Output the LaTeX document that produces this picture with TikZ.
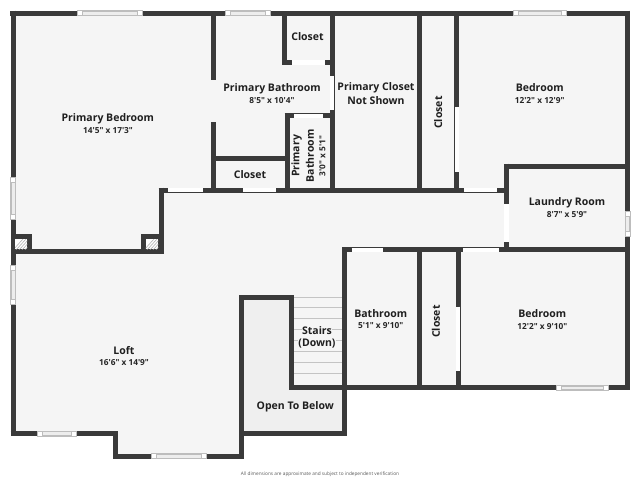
\documentclass[tikz,border=0pt]{standalone}
\usepackage{fontspec}
\newfontfamily\planfont{Open Sans}
\definecolor{wallc}{HTML}{3A3A3A}
\definecolor{floorc}{HTML}{F5F5F5}
\definecolor{voidc}{HTML}{EFEFEF}
\definecolor{glassc}{HTML}{EDEDED}
\definecolor{framec}{HTML}{BDBDBD}
\definecolor{stepc}{HTML}{C4C4C4}
\tikzset{
  wall/.style={draw=wallc,line width=5pt,line cap=butt},
  doorway/.style={draw=white,line width=4.6pt,line cap=butt},
  treadline/.style={draw=stepc,line width=0.8pt},
  roomname/.style={font=\planfont\bfseries\fontsize{10.5}{12}\selectfont,text=black!88,inner sep=0.5pt,yshift=-0.9pt},
  roomsize/.style={font=\planfont\bfseries\fontsize{8.3}{10}\selectfont,text=black!85,inner sep=0.5pt,yshift=-0.9pt},
  foot/.style={font=\planfont\fontsize{4.75}{6}\selectfont,text=black!65,inner sep=0pt},
}
\newcommand{\winH}[3]{% x1 x2 y
  \fill[white] (#1,#3-2.6) rectangle (#2,#3+2.6);
  \draw[framec,line width=0.5pt] (#1,#3-2.6) rectangle (#2,#3+2.6);
  \draw[framec,line width=0.5pt,fill=glassc] (#1+5,#3-1.8) rectangle (#2-5,#3+1.8);
}
\newcommand{\winV}[3]{% x y1 y2
  \fill[white] (#1-2.6,#2) rectangle (#1+2.6,#3);
  \draw[framec,line width=0.5pt] (#1-2.6,#2) rectangle (#1+2.6,#3);
  \draw[framec,line width=0.5pt,fill=glassc] (#1-1.8,#2+5) rectangle (#1+1.8,#3-5);
}
\begin{document}
\begin{tikzpicture}[x=1pt,y=-1pt]
\useasboundingbox (0,0) rectangle (640,479);
\fill[white] (0,0) rectangle (640,479);
% floor
\fill[floorc] (13,13) -- (627.5,13) -- (627.5,388) -- (344,388) -- (344,433.5) -- (241.5,433.5) -- (241.5,456) -- (116,456) -- (116,433.5) -- (13,433.5) -- cycle;
\fill[voidc] (241.5,297.5) -- (291.5,297.5) -- (291.5,388) -- (344,388) -- (344,433.5) -- (241.5,433.5) -- cycle;
% stair treads
\foreach \ty in {297,307.3,318.3,329.3,340,351,362.3,373.3}
  \draw[treadline] (293,\ty) -- (342,\ty);
% outer walls
\draw[wall] (10.4,13) -- (630,13);
\draw[wall] (13,10.6) -- (13,436);
\draw[wall] (627.5,10.6) -- (627.5,390.4);
\draw[wall] (10.6,433.5) -- (118.2,433.5);
\draw[wall] (115.7,431) -- (115.7,458.4);
\draw[wall] (113.3,456) -- (244,456);
\draw[wall] (241.5,295) -- (241.5,458.4);
\draw[wall] (239,297.5) -- (293.8,297.5);
\draw[wall] (291.3,295) -- (291.3,390);
\draw[wall] (289,387.7) -- (630,387.7);
\draw[wall] (241.5,433.5) -- (346.8,433.5);
\draw[wall] (344.3,247.2) -- (344.3,436);
\draw[wall] (342,249.8) -- (630,249.8);
% primary bedroom lower wall and pillars
\draw[wall] (13,251.5) -- (163.4,251.5);
\draw[wall] (161,187.6) -- (161,254);
\draw[wall] (158.6,190) -- (506.5,190);
\fill[wallc] (10.6,234) rectangle (32.3,254);
\fill[wallc] (141,234) rectangle (163.4,254);
\fill[white] (15,239) rectangle (27.3,249);
\fill[white] (145.7,239) rectangle (158.3,249);
\begin{scope}
\clip (15,239) rectangle (27.3,249);
\foreach \k in {0,3,...,27} \draw[gray!70,line width=0.5pt] (12+\k,251) -- (12+\k+12,238);
\end{scope}
\begin{scope}
\clip (145.7,239) rectangle (158.3,249);
\foreach \k in {0,3,...,27} \draw[gray!70,line width=0.5pt] (143+\k,251) -- (143+\k+12,238);
\end{scope}
% interior walls upper
\draw[wall] (213.3,13) -- (213.3,80);
\draw[wall] (213.3,122) -- (213.3,190);
\draw[wall] (213,158) -- (289,158);
\draw[wall] (287,113.3) -- (287,190);
\draw[wall] (284.6,115.8) -- (332,115.8);
\draw[wall] (284.8,13) -- (284.8,65);
\draw[wall] (282.4,62.5) -- (332,62.5);
\draw[wall] (332,13) -- (332,190);
\draw[wall] (419,13) -- (419,190);
\draw[wall] (456.8,13) -- (456.8,190);
\draw[wall] (506.5,163.6) -- (506.5,247);
\draw[wall] (504.1,166) -- (630,166);
% interior walls lower
\draw[wall] (419,250) -- (419,388);
\draw[wall] (458,250) -- (458,388);
\draw[wall] (506.5,242) -- (506.5,250);
% doorways
\draw[doorway] (168,190) -- (203,190);
\draw[doorway] (243,190) -- (276,190);
\draw[doorway] (464,190) -- (497,190);
\draw[doorway] (291.7,62.5) -- (325,62.5);
\draw[doorway] (294,115.8) -- (323,115.8);
\draw[doorway] (332,76) -- (332,110);
\draw[doorway] (456.8,107.3) -- (456.8,172);
\draw[doorway] (506.5,204) -- (506.5,242);
\draw[doorway] (351.7,249.8) -- (382.7,249.8);
\draw[doorway] (463,249.8) -- (499,249.8);
\draw[doorway] (458,306.7) -- (458,371.3);
% windows
\winH{77}{142.7}{13}
\winH{225.7}{270.7}{13}
\winH{513.3}{566}{13}
\winH{37.3}{76.3}{433.5}
\winH{151.3}{206}{456}
\winH{556.7}{608.7}{387.7}
\winV{13}{177}{219}
\winV{13}{265}{304}
\winV{627.5}{211.7}{236.7}
% labels
\node[roomname] (bedp) at (107.8,118) {Primary Bedroom};
\node[roomsize] (bedpd) at (108,130) {14'5" x 17'3"};
\node[roomname] (bathp) at (272,88) {Primary Bathroom};
\node[roomsize] (bathpd) at (272,99.7) {8'5" x 10'4"};
\node[roomname] (clo1) at (307.5,36) {Closet};
\node[roomname] (pc1) at (376,86.5) {Primary Closet};
\node[roomname] (pc2) at (376,100) {Not Shown};
\node[roomname] (bed1) at (539.7,87) {Bedroom};
\node[roomsize] (bed1d) at (539.7,99.5) {12'2" x 12'9"};
\node[roomname,rotate=90] (clo2) at (438.3,111.7) {Closet};
\node[roomname] (lau) at (567,202) {Laundry Room};
\node[roomsize] (laud) at (567,214) {8'7" x 5'9"};
\node[roomname] (clo3) at (250,174) {Closet};
\node[roomname,rotate=90] (pb1) at (296.7,155) {Primary};
\node[roomname,rotate=90] (pb2) at (310,155) {Bathroom};
\node[roomsize,rotate=90] (pb3) at (322.3,155) {3'0" x 5'1"};
\node[roomname] (loft) at (124,349.7) {Loft};
\node[roomsize] (loftd) at (124,362) {16'6" x 14'9"};
\node[roomname,fill=floorc] (st1) at (317,329.3) {Stairs};
\node[roomname,fill=floorc] (st2) at (317,343) {(Down)};
\node[roomname] (otb) at (295.3,406.3) {Open To Below};
\node[roomname] (bath) at (380.7,312.3) {Bathroom};
\node[roomsize] (bathd) at (380.7,324.7) {5'1" x 9'10"};
\node[roomname,rotate=90] (clo4) at (436,320.7) {Closet};
\node[roomname] (bed2) at (542.3,313) {Bedroom};
\node[roomsize] (bed2d) at (542.3,325.3) {12'2" x 9'10"};
\node[foot] (note) at (320,474) {All dimensions are approximate and subject to independent verification};
\end{tikzpicture}
\end{document}
